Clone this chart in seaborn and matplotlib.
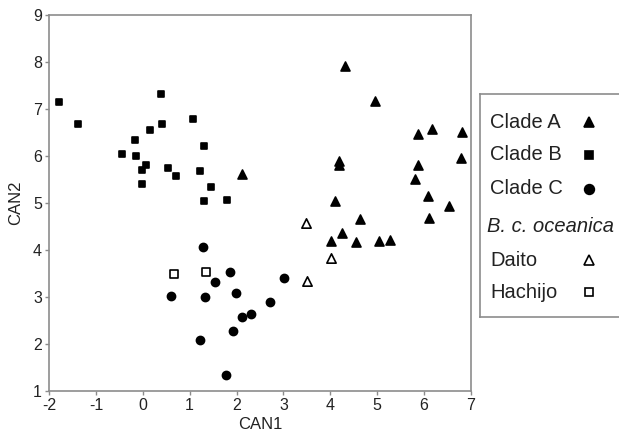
import pandas as pd
import matplotlib
matplotlib.use("Agg")
import matplotlib.pyplot as plt
import seaborn as sns

# values
clade_a_x = [2.11, 4.31, 4.95, 5.88, 6.16, 6.81, 4.19, 4.18, 5.86, 6.79, 5.80,
             4.11, 6.09, 6.54, 4.64, 4.24, 4.01, 4.55, 5.04, 5.27, 6.10]
clade_a_y = [5.61, 7.91, 7.18, 6.46, 6.58, 6.51, 5.90, 5.81, 5.81, 5.95, 5.51,
             5.04, 5.14, 4.93, 4.65, 4.37, 4.20, 4.16, 4.19, 4.21, 4.68]
clade_b_x = [-1.78, -1.39, -0.44, -0.16, -0.14, 0.07, -0.02, -0.01, 0.16, 0.38,
             0.41, 0.54, 0.71, 1.08, 1.30, 1.23, 1.45, 1.30, 1.79]
clade_b_y = [7.15, 6.68, 6.05, 6.33, 6.00, 5.81, 5.70, 5.41, 6.55, 7.32,
             6.68, 5.74, 5.58, 6.78, 6.22, 5.68, 5.34, 5.04, 5.06]
clade_c_x = [1.29, 1.86, 1.55, 0.60, 1.33, 1.98, 2.11, 2.30, 1.22, 1.93, 1.77, 3.02, 2.71]
clade_c_y = [4.07, 3.53, 3.31, 3.02, 2.99, 3.09, 2.58, 2.64, 2.08, 2.28, 1.35, 3.41, 2.89]
daito_x = [3.49, 4.01, 3.51]
daito_y = [4.58, 3.84, 3.33]
hachijo_x = [0.66, 1.34]
hachijo_y = [3.48, 3.53]

x_ticks = [-2, -1, 0, 1, 2, 3, 4, 5, 6, 7]
y_ticks = [1, 2, 3, 4, 5, 6, 7, 8, 9]

sns.set_style("ticks")
plt.rcParams["font.family"] = ["Liberation Sans", "DejaVu Sans"]
plt.rcParams["axes.unicode_minus"] = False
grey = "#8c8c8c"
ink = "#222222"

groups = [
    ("Clade A", clade_a_x, clade_a_y, "^", 42, "black"),
    ("Clade B", clade_b_x, clade_b_y, "s", 24, "black"),
    ("Clade C", clade_c_x, clade_c_y, "o", 34, "black"),
    ("Daito", daito_x, daito_y, "^", 45, "white"),
    ("Hachijo", hachijo_x, hachijo_y, "s", 26, "white"),
]

fig = plt.figure(figsize=(6.19, 4.33), dpi=100)
ax = fig.add_axes([49 / 619, 1 - 391 / 433, 422 / 619, 376 / 433])

for name, xs, ys, mk, size, face in groups:
    df = pd.DataFrame({"CAN1": xs, "CAN2": ys})
    sns.scatterplot(data=df, x="CAN1", y="CAN2", marker=mk, s=size,
                    color=face, edgecolor="black", linewidth=1.2, ax=ax, zorder=3)

ax.set_xlim(-2, 7)
ax.set_ylim(1, 9)
ax.set_xticks(x_ticks)
ax.set_yticks(y_ticks)
ax.tick_params(direction="out", length=3, width=1, color=grey,
               labelsize=11.5, labelcolor=ink, pad=2)
for s in ax.spines.values():
    s.set_visible(True)
    s.set_color(grey)
    s.set_linewidth(1.2)
ax.set_xlabel("CAN1", fontsize=12, color=ink, labelpad=3)
ax.set_ylabel("CAN2", fontsize=12, color=ink, labelpad=7)

# legend drawn as a small box to the right of the plot
lax = fig.add_axes([480 / 619, 1 - 317 / 433, 145 / 619, 223 / 433])
lax.set_xlim(480, 625)
lax.set_ylim(317, 94)
lax.set_xticks([])
lax.set_yticks([])
for s in lax.spines.values():
    s.set_color(grey)
    s.set_linewidth(1.2)

rows = [
    ("Clade A", "^", "black", 7.5, 122),
    ("Clade B", "s", "black", 5.5, 155),
    ("Clade C", "o", "black", 7, 189),
    ("B. c. oceanica", None, None, 0, 227),
    ("Daito", "^", "white", 7.5, 260),
    ("Hachijo", "s", "white", 5.5, 292),
]
for label, mk, face, ms, yy in rows:
    if mk is None:
        lax.text(487, yy, label, fontsize=14.5, style="italic", color=ink,
                 va="center", ha="left")
    else:
        lax.text(490, yy, label, fontsize=14.5, color=ink, va="center", ha="left")
        lax.plot([589], [yy], marker=mk, ms=ms, mfc=face, mec="black",
                 mew=1.2, ls="none")

fig.savefig("out.png", dpi=100)
